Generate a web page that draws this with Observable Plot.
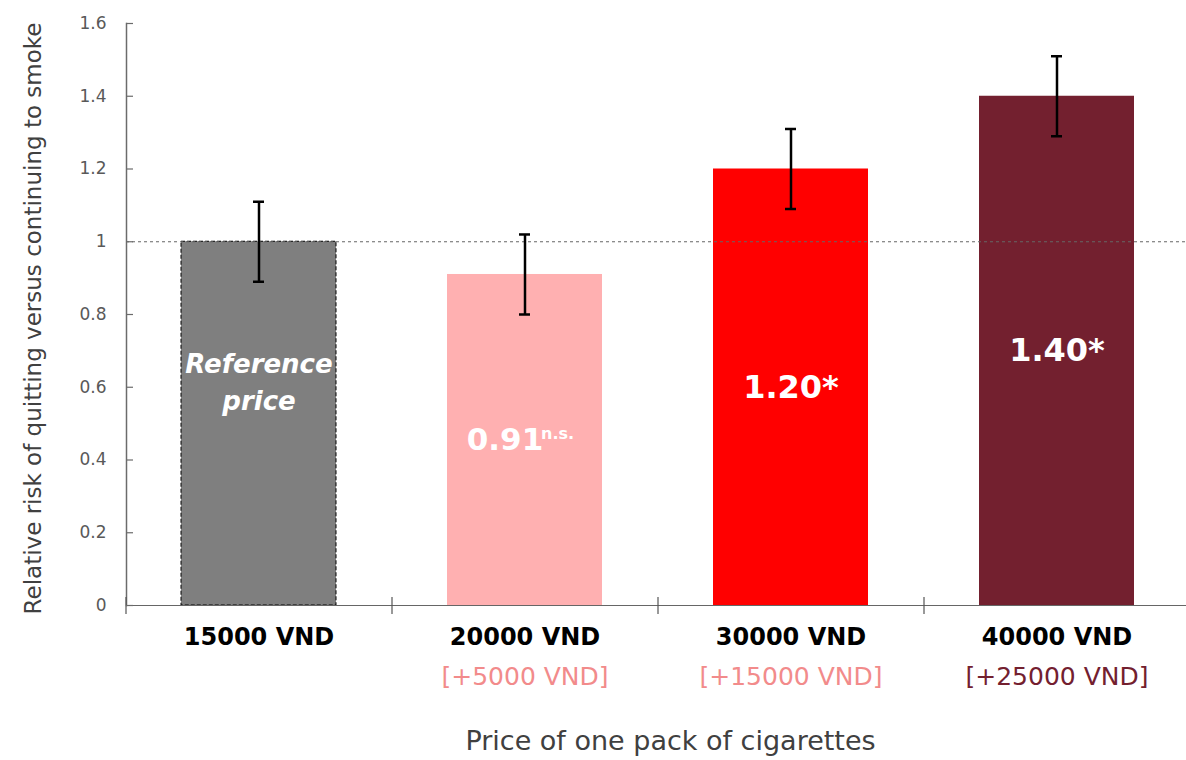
<!DOCTYPE html>
<html>
<head>
<meta charset="utf-8">
<script src="https://cdn.jsdelivr.net/npm/d3@7"></script>
<script src="https://cdn.jsdelivr.net/npm/@observablehq/plot@0.6"></script>
<style>
  body { margin: 0; background: #fff; }
</style>
</head>
<body>
<div id="chart"></div>
<script>
// ---- data ----
const categories = ["15000 VND", "20000 VND", "30000 VND", "40000 VND"];
const increments = ["", "[+5000 VND]", "[+15000 VND]", "[+25000 VND]"];
const relativeRisk = [1.00, 0.91, 1.20, 1.40];
const ciLow = [0.89, 0.80, 1.09, 1.29];
const ciHigh = [1.11, 1.02, 1.31, 1.51];
const barLabels = ["Reference\nprice", "0.91", "1.20*", "1.40*"];
const significance = ["", "n.s.", "", ""];
const yTicks = [0, 0.2, 0.4, 0.6, 0.8, 1, 1.2, 1.4, 1.6];

// ---- styles ----
const barColors = ["#7f7f7f", "#ffb0b1", "#ff0000", "#73202f"];
const incColors = ["#f28b8b", "#f28b8b", "#f28b8b", "#73202f"];
const font = "DejaVu Sans";

const data = categories.map((c, i) => ({
  cat: c, inc: increments[i], value: relativeRisk[i],
  lo: ciLow[i], hi: ciHigh[i], label: barLabels[i], sig: significance[i]
}));

const step = (1186 + 4 - 126) / categories.length;
const withSig = data.filter(d => d.sig);
const plainNumbers = data.slice(1).filter(d => !d.sig);

const chart = Plot.plot({
  width: 1186,
  height: 760,
  marginLeft: 126,
  marginRight: -4,
  marginTop: 23,
  marginBottom: 155,
  style: { fontFamily: font, background: "white", overflow: "visible" },
  x: { domain: categories, paddingInner: 0.417, paddingOuter: 0.2085, axis: null },
  y: { domain: [0, 1.6], axis: null },
  color: { domain: categories, range: barColors },
  marks: [
    // bars
    Plot.barY(data, { x: "cat", y: "value", fill: "cat" }),
    Plot.barY(data.slice(0, 1), {
      x: "cat", y: "value", fill: "none", stroke: "#000",
      strokeWidth: 1, strokeDasharray: "4,2"
    }),
    // reference line at 1
    Plot.ruleY([1], { stroke: "#666", strokeWidth: 1, strokeDasharray: "3,3" }),
    // axes lines
    Plot.ruleY([0], { stroke: "#666", strokeWidth: 1.2 }),
    Plot.frame({ anchor: "left", stroke: "#6b6b6b", strokeWidth: 1.5 }),
    Plot.ruleX(categories, {
      x: d => d, dx: -step / 2, y1: 0.022, y2: -0.025, stroke: "#555", strokeWidth: 1.2
    }),
    Plot.axisY({
      ticks: yTicks, tickFormat: d => `${d}`, tickSize: -7, tickPadding: 27,
      stroke: "#6b6b6b", fill: "#595959", fontSize: 17, label: null, strokeWidth: 1.2
    }),
    // error bars
    Plot.ruleX(data, { x: "cat", y1: "lo", y2: "hi", stroke: "#000", strokeWidth: 2.5 }),
    Plot.tickY(data, { x: "cat", y: "lo", stroke: "#000", strokeWidth: 2.5, inset: 72 }),
    Plot.tickY(data, { x: "cat", y: "hi", stroke: "#000", strokeWidth: 2.5, inset: 72 }),
    // labels inside bars
    Plot.text(data.slice(0, 1), {
      x: "cat", y: d => d.value / 2, text: "label", dy: -44,
      fill: "white", fontSize: 26, fontWeight: "bold", fontStyle: "italic", lineHeight: 1.42
    }),
    Plot.text(plainNumbers, {
      x: "cat", y: d => d.value / 2, text: "label",
      fill: "white", fontSize: 32, fontWeight: "bold"
    }),
    Plot.text(withSig, {
      x: "cat", y: d => d.value / 2, text: "label", dx: -20,
      fill: "white", fontSize: 31, fontWeight: "bold"
    }),
    Plot.text(withSig, {
      x: "cat", y: d => d.value / 2, text: "sig", dx: 16, dy: -6, textAnchor: "start",
      fill: "white", fontSize: 16, fontWeight: "bold"
    }),
    // x tick labels
    Plot.text(data, {
      x: "cat", text: "cat", frameAnchor: "bottom", dy: 39,
      fill: "#000", fontSize: 24, fontWeight: "bold"
    }),
    Plot.text(data, {
      x: "cat", text: "inc", frameAnchor: "bottom", dy: 79,
      fill: d => incColors[categories.indexOf(d.cat)], fontSize: 25
    }),
    // axis titles
    Plot.text(["Price of one pack of cigarettes"], {
      text: d => d, frameAnchor: "bottom", dy: 144, dx: 12,
      fill: "#404040", fontSize: 27
    }),
    Plot.text(["Relative risk of quitting versus continuing to smoke"], {
      text: d => d, frameAnchor: "left", textAnchor: "middle", dx: -93, dy: 4, rotate: -90,
      fill: "#404040", fontSize: 23
    })
  ]
});

document.getElementById("chart").append(chart);
</script>
</body>
</html>
